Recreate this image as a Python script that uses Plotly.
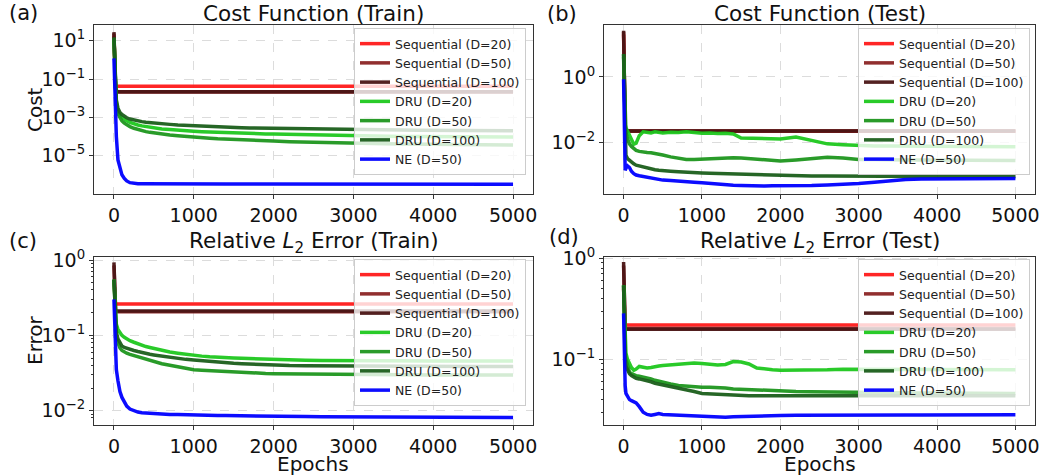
import plotly.graph_objects as go

# ---------------- data ----------------
EPOCHS = [0, 10, 20, 30, 50, 75, 100, 130, 160, 200, 250, 300, 350, 400, 450, 500,
          600, 700, 800, 900, 1000, 1100, 1200, 1300, 1400, 1500, 1600, 1700, 1800,
          1900, 2000, 2200, 2400, 2600, 2800, 3000, 3200, 3400, 3600, 3800, 4000,
          4250, 4500, 4750, 5000]
SEQ_EPOCHS = [0, 10, 20, 30, 60, 200, 1000, 2000, 3000, 4000, 5000]

SERIES = ["Sequential (D=20)", "Sequential (D=50)", "Sequential (D=100)",
          "DRU (D=20)", "DRU (D=50)", "DRU (D=100)", "NE (D=50)"]

# (a) Cost, train
A_SEQ20 = [18, 0.5, 0.05, 0.043, 0.042, 0.042, 0.042, 0.042, 0.042, 0.042, 0.042]
A_SEQ50 = [24, 0.6, 0.03, 0.022, 0.021, 0.021, 0.021, 0.021, 0.021, 0.021, 0.021]
A_SEQ100 = [28, 0.6, 0.03, 0.023, 0.022, 0.022, 0.022, 0.022, 0.022, 0.022, 0.022]
A_DRU20 = [12, 0.8, 0.02, 0.006, 0.0022, 0.0013, 0.001, 0.0008, 0.00066, 0.00055, 0.00046,
           0.0004, 0.00036, 0.00033, 0.0003, 0.00028, 0.00025, 0.00023, 0.00021, 0.0002,
           0.00019, 0.00018, 0.000172, 0.000165, 0.00016, 0.000155, 0.00015, 0.000145,
           0.00014, 0.000137, 0.000134, 0.000128, 0.000122, 0.000117, 0.000112, 0.000108,
           0.000105, 0.000103, 0.000101, 0.0001, 0.000099, 0.000097, 0.000096, 0.000095,
           0.000094]
A_DRU50 = [14, 0.9, 0.015, 0.004, 0.0015, 0.0009, 0.00065, 0.0005, 0.0004, 0.00033, 0.00027,
           0.00023, 0.0002, 0.00018, 0.000165, 0.000152, 0.000133, 0.00012, 0.00011, 0.0001,
           0.000093, 0.000087, 0.000082, 0.000077, 0.000073, 0.00007, 0.000067, 0.000064,
           0.000062, 0.00006, 0.000058, 0.000054, 0.000051, 0.000048, 0.000046, 0.000044,
           0.000043, 0.000042, 0.000041, 0.00004, 0.000039, 0.000038, 0.000037, 0.000037,
           0.000036]
A_DRU100 = [15, 1.0, 0.03, 0.008, 0.003, 0.0018, 0.0014, 0.0011, 0.00095, 0.00082, 0.00072,
            0.00065, 0.0006, 0.00056, 0.00053, 0.0005, 0.00046, 0.00043, 0.0004, 0.00038,
            0.00036, 0.00034, 0.00033, 0.00032, 0.00031, 0.0003, 0.00029, 0.00028, 0.000275,
            0.00027, 0.000265, 0.000255, 0.000248, 0.00024, 0.000235, 0.00023, 0.000226,
            0.000222, 0.000218, 0.000215, 0.000212, 0.000208, 0.000205, 0.000202, 0.0002]
A_NE = [1.2, 0.05, 0.001, 0.0001, 6e-6, 2e-6, 1e-6, 6.5e-7, 4.8e-7, 3.9e-7, 3.5e-7, 3.45e-7,
        3.42e-7, 3.4e-7, 3.4e-7, 3.38e-7, 3.37e-7, 3.36e-7, 3.35e-7, 3.35e-7, 3.34e-7,
        3.34e-7, 3.33e-7, 3.33e-7, 3.32e-7, 3.32e-7, 3.31e-7, 3.31e-7, 3.3e-7, 3.3e-7,
        3.3e-7, 3.29e-7, 3.29e-7, 3.28e-7, 3.28e-7, 3.27e-7, 3.27e-7, 3.26e-7, 3.26e-7,
        3.25e-7, 3.25e-7, 3.24e-7, 3.24e-7, 3.23e-7, 3.23e-7]

# (b) Cost, test
B_SEQ20 = [20, 0.4, 0.03, 0.023, 0.022, 0.022, 0.022, 0.022, 0.022, 0.022, 0.022]
B_SEQ50 = [24, 0.5, 0.03, 0.023, 0.0222, 0.0222, 0.0222, 0.0222, 0.0222, 0.0222, 0.0222]
B_SEQ100 = [26, 0.5, 0.03, 0.023, 0.0222, 0.0222, 0.0222, 0.0222, 0.0222, 0.0222, 0.0222]
B_DRU20 = [4, 0.2, 0.035, 0.028, 0.022, 0.016, 0.011, 0.0088, 0.0095, 0.016, 0.021, 0.0205,
           0.0195, 0.021, 0.0205, 0.0195, 0.0205, 0.02, 0.021, 0.0195, 0.019, 0.0192,
           0.0185, 0.019, 0.018, 0.0135, 0.0132, 0.0132, 0.013, 0.0128, 0.0127, 0.0145,
           0.0115, 0.009, 0.0085, 0.008, 0.0078, 0.0077, 0.0076, 0.0075, 0.0075, 0.0074,
           0.0074, 0.0073, 0.0073]
B_DRU50 = [5, 0.3, 0.03, 0.02, 0.013, 0.009, 0.0075, 0.0063, 0.0057, 0.0053, 0.005, 0.0049,
           0.0048, 0.0046, 0.0043, 0.0041, 0.0036, 0.0032, 0.003, 0.003, 0.0031, 0.0032,
           0.0033, 0.0034, 0.0034, 0.0033, 0.0032, 0.0031, 0.003, 0.0028, 0.0027, 0.0029,
           0.0032, 0.0035, 0.0033, 0.003, 0.003, 0.0029, 0.0029, 0.0029, 0.0029, 0.0028,
           0.0028, 0.0028, 0.0028]
B_DRU100 = [5, 0.2, 0.006, 0.004, 0.0032, 0.0028, 0.0025, 0.0022, 0.002, 0.0019, 0.0017,
            0.0016, 0.0015, 0.00145, 0.0014, 0.00135, 0.0013, 0.00125, 0.0012, 0.00118,
            0.00115, 0.00113, 0.00111, 0.00109, 0.00107, 0.00105, 0.00103, 0.00101, 0.001,
            0.00098, 0.00097, 0.00095, 0.00094, 0.00093, 0.00092, 0.00091, 0.0009, 0.0009,
            0.00089, 0.00089, 0.00089, 0.00088, 0.00088, 0.00088, 0.00088]
B_NE = [0.85, 0.01, 0.0014, 0.0016, 0.0019, 0.0017, 0.0013, 0.0011, 0.001, 0.00095, 0.0009,
        0.00082, 0.00078, 0.00075, 0.00072, 0.0007, 0.00068, 0.00064, 0.00062, 0.0006,
        0.00058, 0.00055, 0.00053, 0.0005, 0.00049, 0.00048, 0.00047, 0.00046, 0.00046,
        0.00047, 0.00047, 0.00047, 0.00048, 0.0005, 0.00052, 0.00055, 0.0006, 0.00066,
        0.00073, 0.00075, 0.00075, 0.00076, 0.00077, 0.00078, 0.00078]

# (c) Relative L2 error, train
C_SEQ20 = [0.5, 0.3, 0.265, 0.26, 0.26, 0.26, 0.26, 0.26, 0.26, 0.26, 0.26]
C_SEQ50 = [0.85, 0.35, 0.22, 0.205, 0.205, 0.205, 0.205, 0.205, 0.205, 0.205, 0.205]
C_SEQ100 = [0.93, 0.35, 0.22, 0.21, 0.21, 0.21, 0.21, 0.21, 0.21, 0.21, 0.21]
C_DRU20 = [0.55, 0.3, 0.17, 0.14, 0.12, 0.108, 0.1, 0.094, 0.089, 0.085, 0.081, 0.077, 0.074,
           0.071, 0.069, 0.067, 0.063, 0.06, 0.058, 0.056, 0.054, 0.053, 0.052, 0.051,
           0.0505, 0.05, 0.0495, 0.049, 0.0485, 0.048, 0.0478, 0.0472, 0.0468, 0.0465,
           0.0462, 0.046, 0.0459, 0.0458, 0.0457, 0.0457, 0.0456, 0.0456, 0.0455, 0.0455,
           0.0455]
C_DRU50 = [0.55, 0.22, 0.12, 0.095, 0.08, 0.068, 0.063, 0.06, 0.058, 0.056, 0.054, 0.052,
           0.05, 0.048, 0.046, 0.045, 0.042, 0.04, 0.038, 0.036, 0.035, 0.0345, 0.034,
           0.0335, 0.033, 0.0325, 0.032, 0.0318, 0.0315, 0.0312, 0.031, 0.0308, 0.031,
           0.0308, 0.0303, 0.03, 0.03, 0.0299, 0.0299, 0.0298, 0.0298, 0.0298, 0.0298,
           0.0298, 0.0298]
C_DRU100 = [0.55, 0.25, 0.14, 0.11, 0.09, 0.078, 0.072, 0.069, 0.067, 0.065, 0.063, 0.061,
            0.059, 0.057, 0.056, 0.055, 0.053, 0.051, 0.049, 0.048, 0.047, 0.046, 0.0445,
            0.0435, 0.043, 0.0425, 0.042, 0.0415, 0.041, 0.0405, 0.04, 0.0398, 0.0396,
            0.0394, 0.0392, 0.039, 0.0389, 0.0388, 0.0387, 0.0387, 0.0386, 0.0386, 0.0385,
            0.0385, 0.0385]
C_NE = [0.3, 0.12, 0.06, 0.035, 0.025, 0.018, 0.015, 0.013, 0.0115, 0.0105, 0.0099, 0.0096,
        0.0094, 0.0093, 0.0092, 0.0091, 0.009, 0.0089, 0.0089, 0.0088, 0.0088, 0.0087,
        0.0087, 0.0086, 0.0086, 0.0086, 0.0085, 0.0085, 0.0085, 0.0085, 0.0084, 0.0084,
        0.0084, 0.0083, 0.0083, 0.0083, 0.0082, 0.0082, 0.0082, 0.0082, 0.0081, 0.0081,
        0.0081, 0.0081, 0.0081]

# (d) Relative L2 error, test
D_SEQ20 = [0.5, 0.25, 0.22, 0.219, 0.219, 0.219, 0.219, 0.219, 0.219, 0.219, 0.219]
D_SEQ50 = [0.85, 0.3, 0.205, 0.202, 0.202, 0.202, 0.202, 0.202, 0.202, 0.202, 0.202]
D_SEQ100 = [0.92, 0.3, 0.2, 0.198, 0.198, 0.198, 0.198, 0.198, 0.198, 0.198, 0.198]
D_DRU20 = [0.54, 0.25, 0.14, 0.115, 0.1, 0.09, 0.083, 0.078, 0.08, 0.085, 0.083, 0.082, 0.083,
           0.085, 0.086, 0.087, 0.088, 0.09, 0.091, 0.092, 0.091, 0.09, 0.088, 0.089, 0.095,
           0.094, 0.09, 0.082, 0.08, 0.079, 0.078, 0.078, 0.079, 0.079, 0.08, 0.08, 0.08,
           0.08, 0.079, 0.079, 0.079, 0.079, 0.079, 0.079, 0.079]
D_DRU50 = [0.54, 0.2, 0.12, 0.1, 0.085, 0.075, 0.072, 0.07, 0.069, 0.068, 0.067, 0.066, 0.064,
           0.062, 0.061, 0.06, 0.057, 0.055, 0.054, 0.053, 0.053, 0.053, 0.053, 0.052, 0.051,
           0.0505, 0.05, 0.0495, 0.049, 0.0488, 0.0485, 0.048, 0.0478, 0.0475, 0.0472,
           0.047, 0.047, 0.0468, 0.0466, 0.0465, 0.0464, 0.0463, 0.0462, 0.0461, 0.046]
D_DRU100 = [0.54, 0.18, 0.1, 0.085, 0.077, 0.072, 0.069, 0.067, 0.065, 0.064, 0.063, 0.062,
            0.06, 0.058, 0.057, 0.056, 0.054, 0.052, 0.05, 0.048, 0.046, 0.0455, 0.045,
            0.0445, 0.044, 0.0438, 0.0436, 0.0435, 0.0435, 0.0435, 0.0435, 0.0435, 0.0435,
            0.0435, 0.0435, 0.0435, 0.0435, 0.0435, 0.0435, 0.0435, 0.0435, 0.0435, 0.0435,
            0.0435, 0.0435]
D_NE = [0.285, 0.1, 0.055, 0.046, 0.043, 0.04, 0.039, 0.038, 0.037, 0.034, 0.03, 0.0285,
        0.028, 0.0285, 0.029, 0.0285, 0.0282, 0.028, 0.028, 0.0278, 0.0275, 0.027, 0.0268,
        0.0267, 0.027, 0.0272, 0.0274, 0.0275, 0.0276, 0.0277, 0.0278, 0.0279, 0.028,
        0.0281, 0.028, 0.028, 0.028, 0.0281, 0.0281, 0.0281, 0.0282, 0.0282, 0.0282,
        0.0282, 0.0282]

X_TICKS = [0, 1000, 2000, 3000, 4000, 5000]

PANEL_DATA = [
    [A_SEQ20, A_SEQ50, A_SEQ100, A_DRU20, A_DRU50, A_DRU100, A_NE],
    [B_SEQ20, B_SEQ50, B_SEQ100, B_DRU20, B_DRU50, B_DRU100, B_NE],
    [C_SEQ20, C_SEQ50, C_SEQ100, C_DRU20, C_DRU50, C_DRU100, C_NE],
    [D_SEQ20, D_SEQ50, D_SEQ100, D_DRU20, D_DRU50, D_DRU100, D_NE],
]
PANEL_TITLES = ["Cost Function (Train)", "Cost Function (Test)",
                "Relative <i>L</i><sub>2</sub> Error (Train)",
                "Relative <i>L</i><sub>2</sub> Error (Test)"]
PANEL_LETTERS = ["(a)", "(b)", "(c)", "(d)"]

# ---------------- styling / layout ----------------
W, H = 1053, 475
FONT = "DejaVu Sans"
COLORS = ["#ff1a1a", "#8b2424", "#4a1515", "#1ec81e", "#1e961e", "#1b5e1b", "#0000ff"]

# pixel boxes of the four plotting areas: (left, right, top, bottom)
BOXES = [(94, 533, 25, 194), (604, 1035, 25, 194),
         (94, 533, 257, 425), (604, 1035, 257, 425)]
Y_RANGES = [[-7.0, 1.82], [-3.58, 1.59], [-2.19, 0.04], [-1.65, 0.013]]
Y_TICKVALS = [[10, 0.1, 1e-3, 1e-5], [1, 1e-2], [1, 0.1, 0.01], [1, 0.1]]
Y_TICKTEXT = [["10<sup>1</sup>", "10<sup>−1</sup>", "10<sup>−3</sup>", "10<sup>−5</sup>"],
              ["10<sup>0</sup>", "10<sup>−2</sup>"],
              ["10<sup>0</sup>", "10<sup>−1</sup>", "10<sup>−2</sup>"],
              ["10<sup>0</sup>", "10<sup>−1</sup>"]]
MINOR_C = [k * 0.01 for k in range(2, 10)] + [k * 0.1 for k in range(2, 10)] + [0.009, 0.008]
MINOR_D = [k * 0.01 for k in range(2, 10)] + [k * 0.1 for k in range(2, 10)]
MINORS = [None, None, MINOR_C, MINOR_D]
LEGEND_POS = [(526, 28), (1030, 28), (526, 259), (1030, 259)]
TITLE_Y = [13, 13, 243, 243]
LETTER_POS = [(7, 13), (545, 14), (7, 241), (547, 237)]

fig = go.Figure()
for p in range(4):
    xa = "x" if p == 0 else f"x{p + 1}"
    ya = "y" if p == 0 else f"y{p + 1}"
    lg = "legend" if p == 0 else f"legend{p + 1}"
    for s in range(7):
        xs = SEQ_EPOCHS if s < 3 else EPOCHS
        fig.add_trace(go.Scatter(
            x=xs, y=PANEL_DATA[p][s], mode="lines", name=SERIES[s],
            line=dict(color=COLORS[s], width=3.5), opacity=0.95,
            xaxis=xa, yaxis=ya, legend=lg, showlegend=True))

layout = dict(
    width=W, height=H, margin=dict(l=0, r=0, t=0, b=0, pad=0, autoexpand=False),
    paper_bgcolor="white", plot_bgcolor="white",
    font=dict(family=FONT, color="#111"),
    annotations=[],
)
for p in range(4):
    l, r, t, b = BOXES[p]
    sfx = "" if p == 0 else str(p + 1)
    layout[f"xaxis{sfx}"] = dict(
        domain=[l / W, r / W], range=[-250, 5250], anchor=f"y{sfx}", automargin=False,
        tickvals=X_TICKS, ticks="outside", ticklen=4, tickcolor="#333",
        tickfont=dict(size=19, family=FONT, color="#111"),
        showgrid=True, gridcolor="#dcdcdc", griddash="dash", gridwidth=1,
        showline=True, linecolor="#333", linewidth=1, mirror=True, zeroline=False)
    yax = dict(
        domain=[1 - b / H, 1 - t / H], type="log", range=Y_RANGES[p], anchor=f"x{sfx}",
        automargin=False,
        tickvals=Y_TICKVALS[p], ticktext=Y_TICKTEXT[p], ticks="outside", ticklen=4,
        tickcolor="#333", tickfont=dict(size=19, family=FONT, color="#111"),
        showgrid=True, gridcolor="#dcdcdc", griddash="dash", gridwidth=1,
        showline=True, linecolor="#333", linewidth=1, mirror=True, zeroline=False)
    if MINORS[p] is not None:
        yax["minor"] = dict(tickvals=MINORS[p], ticks="outside", ticklen=2.5,
                            tickcolor="#333", showgrid=False)
    layout[f"yaxis{sfx}"] = yax
    lx, ly = LEGEND_POS[p]
    layout[f"legend{sfx}"] = dict(
        x=lx / W, y=1 - ly / H, xanchor="right", yanchor="top",
        bgcolor="rgba(255,255,255,0.8)", bordercolor="#cccccc", borderwidth=1,
        font=dict(family=FONT, size=12.5, color="#222"), itemwidth=30,
        tracegroupgap=0)
    # panel title
    layout["annotations"].append(dict(
        x=(l + r) / 2 / W, y=1 - TITLE_Y[p] / H, xref="paper", yref="paper",
        text=PANEL_TITLES[p], showarrow=False, xanchor="center", yanchor="middle",
        font=dict(size=21.5, family=FONT, color="#111")))
    # letter
    lxp, lyp = LETTER_POS[p]
    layout["annotations"].append(dict(
        x=lxp / W, y=1 - lyp / H, xref="paper", yref="paper",
        text=PANEL_LETTERS[p], showarrow=False, xanchor="left", yanchor="middle",
        font=dict(size=21, family=FONT, color="#111")))

layout["annotations"] += [
    dict(x=35 / W, y=1 - 110 / H, xref="paper", yref="paper", text="Cost", textangle=-90,
         xanchor="center", yanchor="middle",
         showarrow=False, font=dict(size=20, family=FONT, color="#111")),
    dict(x=35 / W, y=1 - 340 / H, xref="paper", yref="paper", text="Error", textangle=-90,
         xanchor="center", yanchor="middle",
         showarrow=False, font=dict(size=20, family=FONT, color="#111")),
    dict(x=313 / W, y=1 - 464 / H, xref="paper", yref="paper", text="Epochs",
         xanchor="center", yanchor="middle",
         showarrow=False, font=dict(size=20, family=FONT, color="#111")),
    dict(x=820 / W, y=1 - 464 / H, xref="paper", yref="paper", text="Epochs",
         xanchor="center", yanchor="middle",
         showarrow=False, font=dict(size=20, family=FONT, color="#111")),
]

fig.update_layout(**layout)
fig.write_html("out.html", config={"displayModeBar": False},
               post_script="document.body.style.margin='0';document.body.style.overflow='hidden';")
